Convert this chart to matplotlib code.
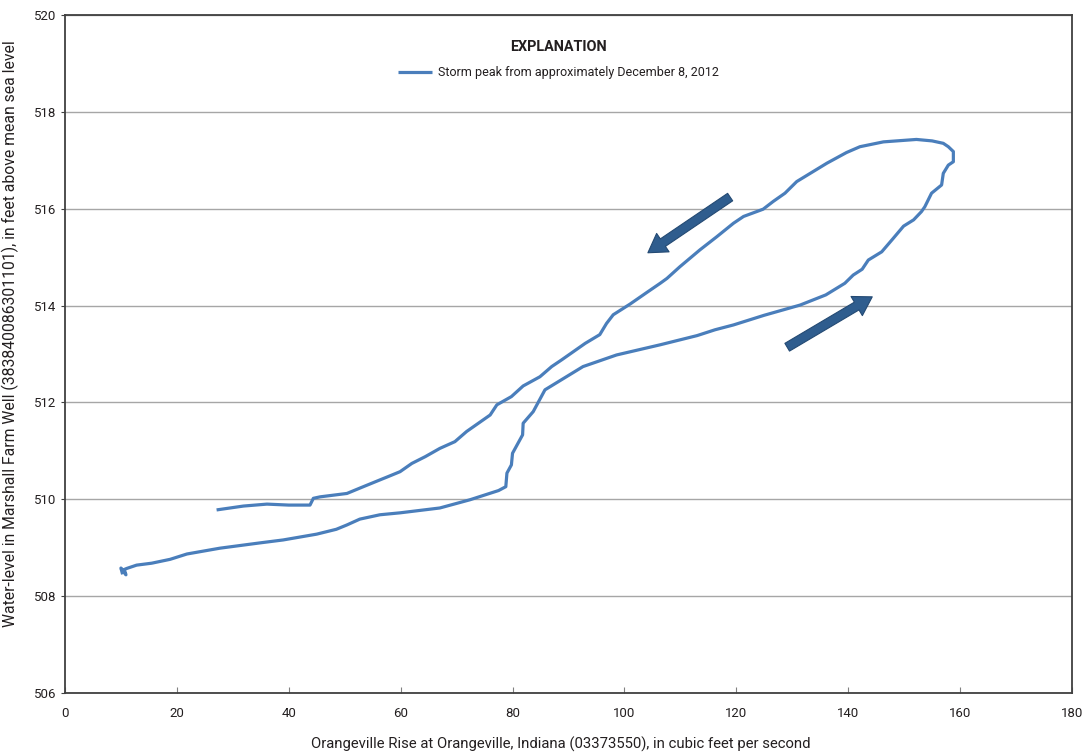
import matplotlib
matplotlib.use("Agg")
import matplotlib.pyplot as plt

# ---- data ----
discharge = [10.3, 10.0, 10.9, 10.6, 11.0, 12.8, 15.5, 18.8, 21.8, 27.7, 34.9, 39.0, 45.0, 48.5,
             50.4, 52.7, 56.3, 59.9, 67.0, 72.4, 77.5, 78.8, 79.0, 79.8, 80.0, 81.8, 81.9, 83.7,
             85.8, 92.6, 98.6, 106.4, 113.0, 116.2, 119.5, 125.0, 131.4, 136.0, 139.4, 140.9,
             142.5, 143.6, 146.0, 148.0, 149.9, 151.7, 153.1, 153.7, 154.9, 156.7, 157.0, 157.9,
             158.8, 158.8, 157.9, 157.0, 155.0, 152.2, 146.3, 142.1, 139.7, 136.2, 133.5, 130.8,
             128.7, 126.6, 124.8, 121.3, 119.5, 116.5, 113.5, 109.9, 107.6, 106.4, 104.0, 101.0,
             98.0, 96.8, 95.6, 93.0, 90.9, 88.8, 87.0, 84.9, 81.9, 79.8, 77.2, 76.0, 73.9, 71.8,
             69.7, 67.0, 64.4, 62.0, 59.9, 57.8, 56.3, 52.7, 50.4, 45.6, 44.4, 43.8, 40.0, 36.1,
             31.9, 27.1]
water_level = [508.45, 508.58, 508.44, 508.55, 508.57, 508.64, 508.68, 508.76, 508.87, 508.99,
               509.10, 509.16, 509.28, 509.38, 509.47, 509.59, 509.68, 509.72, 509.82, 509.99,
               510.18, 510.26, 510.54, 510.71, 510.95, 511.33, 511.57, 511.81, 512.26, 512.74,
               512.98, 513.19, 513.38, 513.50, 513.60, 513.80, 514.01, 514.22, 514.46, 514.63,
               514.75, 514.94, 515.11, 515.38, 515.64, 515.77, 515.94, 516.04, 516.32, 516.49,
               516.73, 516.90, 516.97, 517.18, 517.28, 517.35, 517.40, 517.43, 517.38, 517.28,
               517.16, 516.94, 516.75, 516.56, 516.32, 516.15, 515.99, 515.84, 515.70, 515.42,
               515.15, 514.80, 514.56, 514.46, 514.27, 514.03, 513.81, 513.63, 513.40, 513.22,
               513.05, 512.88, 512.74, 512.53, 512.34, 512.12, 511.95, 511.74, 511.57, 511.40,
               511.19, 511.05, 510.88, 510.74, 510.57, 510.47, 510.40, 510.23, 510.12, 510.05,
               510.02, 509.88, 509.88, 509.90, 509.86, 509.78]
series_label = "Storm peak from approximately December 8, 2012"
legend_title = "EXPLANATION"
x_ticks = [0, 20, 40, 60, 80, 100, 120, 140, 160, 180]
y_ticks = [506, 508, 510, 512, 514, 516, 518, 520]
x_label = "Orangeville Rise at Orangeville, Indiana (03373550), in cubic feet per second"
y_label = "Water-level in Marshall Farm Well (383840086301101), in feet above mean sea level"
# arrows: (tail, head) in data units
arrow_falling = ((118.9, 516.24), (104.2, 515.09))
arrow_rising = ((129.1, 513.14), (144.3, 514.18))

plt.rcParams["font.family"] = ["Roboto", "DejaVu Sans"]

line_color = "#4A7EBB"
arrow_color = "#2F5D8E"
text_color = "#231F20"

fig = plt.figure(figsize=(10.83, 7.53), dpi=100)
ax = fig.add_axes([0.0600, 0.0797, 0.9298, 0.9004])

ax.plot(discharge, water_level, color=line_color, lw=2.3, label=series_label,
        solid_joinstyle="round", solid_capstyle="butt", zorder=3)

ax.set_xlim(x_ticks[0], x_ticks[-1])
ax.set_ylim(y_ticks[0], y_ticks[-1])
ax.set_xticks(x_ticks)
ax.set_yticks(y_ticks)
ax.set_xticklabels([str(v) for v in x_ticks])
ax.set_yticklabels([str(v) for v in y_ticks])

ax.yaxis.grid(True, color="#A6A6A6", lw=1.0)
ax.set_axisbelow(True)
for s in ax.spines.values():
    s.set_color("#404040")
    s.set_linewidth(1.3)

ax.tick_params(axis="x", direction="in", length=4, width=0.8, color="#808080",
               labelsize=9.5, labelcolor=text_color, pad=10)
ax.tick_params(axis="y", direction="out", length=3, width=0.8, color="#404040",
               labelsize=9.5, labelcolor=text_color, pad=3)

ax.set_xlabel(x_label, fontsize=10.7, color=text_color)
ax.xaxis.set_label_coords(0.492, -0.064)
ax.set_ylabel(y_label, fontsize=11.3, color=text_color)
ax.yaxis.set_label_coords(-0.046, 0.53)

for (tail, head) in (arrow_falling, arrow_rising):
    ax.annotate("", xy=head, xytext=tail,
                arrowprops=dict(arrowstyle="simple,head_width=1.6,head_length=1.3,tail_width=0.65",
                                color=arrow_color, ec="#244A73", lw=0.8, shrinkA=0, shrinkB=0),
                zorder=4)

leg = ax.legend(loc="upper center", bbox_to_anchor=(0.49, 0.98), frameon=False,
                title=legend_title, fontsize=9.0, handlelength=2.7, handletextpad=0.5)
leg.get_title().set_fontweight("bold")
leg.get_title().set_fontsize(10.4)
leg.get_title().set_color(text_color)
for t in leg.get_texts():
    t.set_color(text_color)
leg._legend_box.sep = 9

fig.savefig("out.png", dpi=100)
